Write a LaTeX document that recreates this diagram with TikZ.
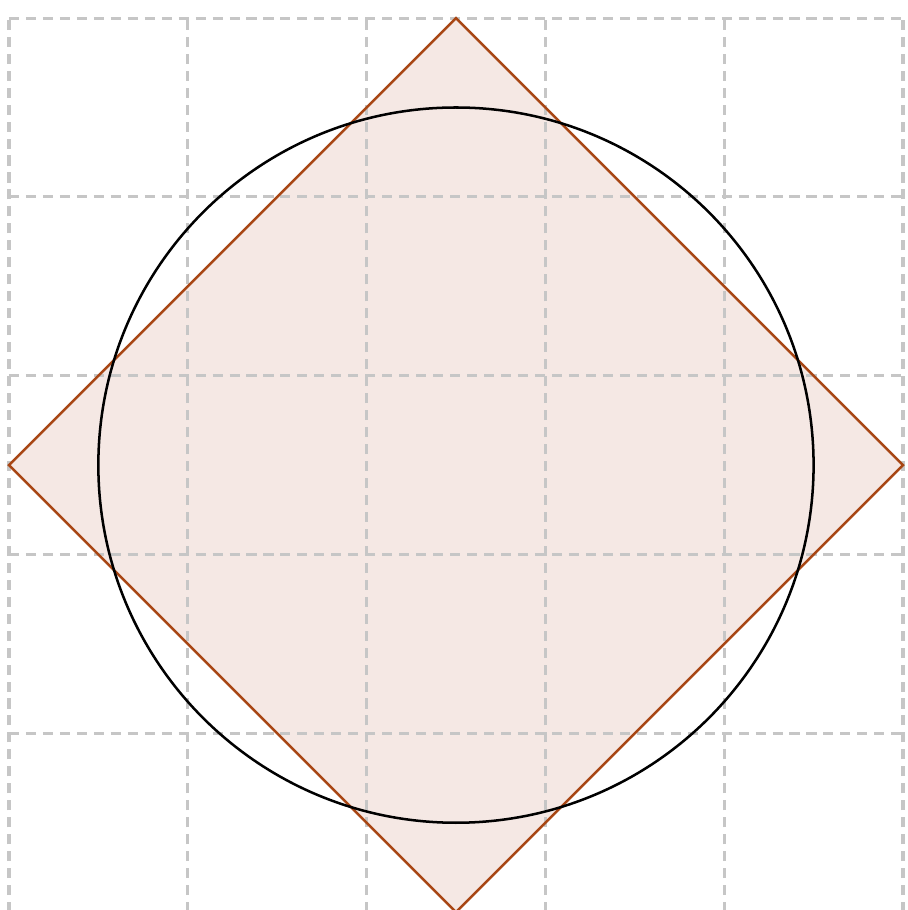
\documentclass[tikz,border=0pt]{standalone}
\usepackage{tikz}
\usepackage{xcolor}
\definecolor{rust}{RGB}{168,70,20}
\definecolor{rustfill}{RGB}{245,232,228}

\begin{document}
\begin{tikzpicture}[x=1cm,y=1cm]
  \useasboundingbox (-2.550,-2.488) rectangle (2.523,2.601);
  % diamond
  \fill[rustfill] (0,2.5) -- (2.5,0) -- (0,-2.5) -- (-2.5,0) -- cycle;
  % grid
  \draw[gray!45,line width=0.5pt,dash pattern=on 1.6pt off 1.1pt,shift={(-0.5,-0.5)}] (-2,-2) grid (3,3);
  \draw[rust,line width=0.4pt,line join=miter] (0,2.5) -- (2.5,0) -- (0,-2.5) -- (-2.5,0) -- cycle;
  % circle
  \draw[black,line width=0.4pt] (0,0) circle (2);
\end{tikzpicture}
\end{document}
